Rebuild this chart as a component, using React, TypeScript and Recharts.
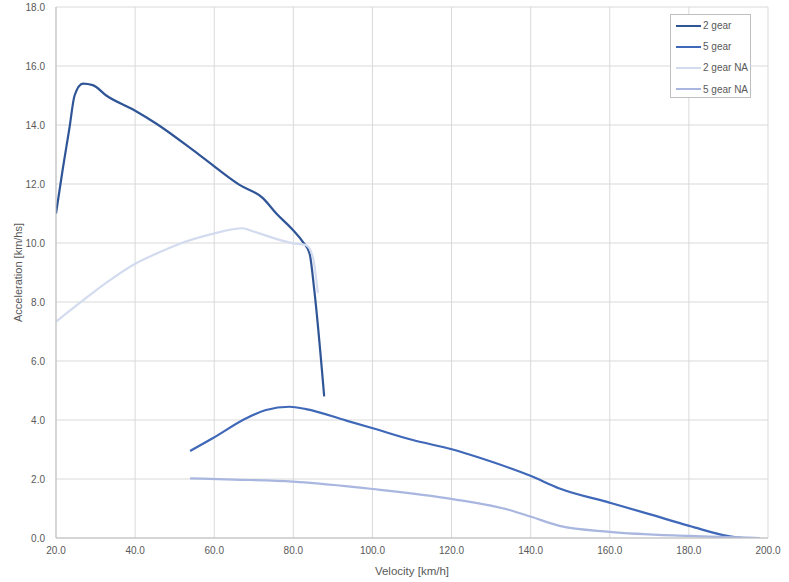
import { LineChart, Line, XAxis, YAxis, CartesianGrid, Legend } from "recharts";

const xTicks = [20, 40, 60, 80, 100, 120, 140, 160, 180, 200];
const yTicks = [0, 2, 4, 6, 8, 10, 12, 14, 16, 18];

const gear2Speed = [20, 21.7, 23.4, 24.7, 26.8, 29.3, 32.7, 39.8, 45.3, 56.3, 66.4, 72.3, 75.7, 79.9, 82.4, 84.1, 85.3, 87.8];
const gear2Accel = [11.0, 12.5, 13.9, 15.0, 15.4, 15.35, 15.0, 14.5, 14.05, 12.98, 11.97, 11.52, 11.0, 10.44, 10.04, 9.65, 8.4, 4.8];

const gear5Speed = [53.9, 59.6, 68.1, 73.1, 79, 83.2, 93.4, 100.1, 110.2, 120.3, 127.1, 140.1, 147.3, 159.9, 170, 180.1, 192, 194];
const gear5Accel = [2.95, 3.38, 4.06, 4.34, 4.45, 4.37, 3.98, 3.72, 3.32, 3.0, 2.72, 2.1, 1.68, 1.2, 0.81, 0.41, 0.02, 0];

const gear2NaSpeed = [20, 26.4, 33.1, 39.8, 46.6, 51.6, 59.6, 67.2, 69.7, 79.9, 83.2, 84.9, 86.2];
const gear2NaAccel = [7.33, 8.01, 8.69, 9.28, 9.71, 9.99, 10.31, 10.5, 10.4, 9.99, 9.93, 9.54, 8.3];

const gear5NaSpeed = [53.9, 65, 79.9, 100.1, 120.3, 134.6, 140.1, 147.3, 159.9, 180.1, 198];
const gear5NaAccel = [2.02, 1.98, 1.91, 1.66, 1.32, 0.95, 0.72, 0.41, 0.21, 0.07, 0];

const toPoints = (xs: number[], ys: number[]) => xs.map((x, i) => ({ x, y: ys[i] }));

const series = [
  { name: "2 gear", color: "#2F5597", data: toPoints(gear2Speed, gear2Accel) },
  { name: "5 gear", color: "#4068B8", data: toPoints(gear5Speed, gear5Accel) },
  { name: "2 gear NA", color: "#D3DBEF", data: toPoints(gear2NaSpeed, gear2NaAccel) },
  { name: "5 gear NA", color: "#A9B7E0", data: toPoints(gear5NaSpeed, gear5NaAccel) },
];

const font = "'Liberation Sans', Arial, sans-serif";
const tickStyle = { fill: "#595959", fontSize: 10, fontFamily: font };

function LegendBox() {
  return (
    <div
      style={{
        border: "1px solid #bfbfbf",
        background: "#fff",
        width: 81,
        height: 84,
        boxSizing: "border-box",
        fontFamily: font,
        fontSize: 10,
        color: "#595959",
      }}
    >
      {series.map((s) => (
        <div key={s.name} style={{ display: "flex", alignItems: "center", height: 21.2 }}>
          <div style={{ width: 25, height: 2, background: s.color, marginLeft: 5, marginRight: 2 }} />
          <span>{s.name}</span>
        </div>
      ))}
    </div>
  );
}

export default function App() {
  return (
    <div style={{ position: "absolute", left: 0, top: 0, background: "#fff" }}>
      <LineChart width={789} height={582} margin={{ top: 7, right: 21, left: 0, bottom: 0 }}>
        <CartesianGrid stroke="#d9d9d9" />
        <XAxis
          dataKey="x"
          type="number"
          domain={[20, 200]}
          ticks={xTicks}
          allowDataOverflow
          tickFormatter={(v: number) => v.toFixed(1)}
          tick={tickStyle}
          tickLine={false}
          tickSize={0}
          tickMargin={9}
          height={44}
          axisLine={{ stroke: "#bfbfbf" }}
          label={{ value: "Velocity [km/h]", position: "insideBottom", offset: 7, fill: "#595959", fontSize: 11.5, fontFamily: font }}
        />
        <YAxis
          dataKey="y"
          type="number"
          domain={[0, 18]}
          ticks={yTicks}
          allowDataOverflow
          tickFormatter={(v: number) => v.toFixed(1)}
          tick={tickStyle}
          tickLine={false}
          tickSize={0}
          tickMargin={11}
          width={56}
          axisLine={{ stroke: "#bfbfbf" }}
          label={{
            value: "Acceleration [km/hs]",
            angle: -90,
            position: "insideLeft",
            offset: 18,
            style: { textAnchor: "middle" },
            fill: "#595959",
            fontSize: 11,
            fontFamily: font,
          }}
        />
        <Legend
          layout="horizontal"
          verticalAlign="middle"
          align="center"
          wrapperStyle={{ top: 14, left: 670, width: "auto" }}
          content={() => <LegendBox />}
        />
        {series.map((s) => (
          <Line
            key={s.name}
            data={s.data}
            dataKey="y"
            name={s.name}
            type="monotone"
            stroke={s.color}
            strokeWidth={2.2}
            dot={false}
            activeDot={false}
            isAnimationActive={false}
          />
        ))}
      </LineChart>
    </div>
  );
}
